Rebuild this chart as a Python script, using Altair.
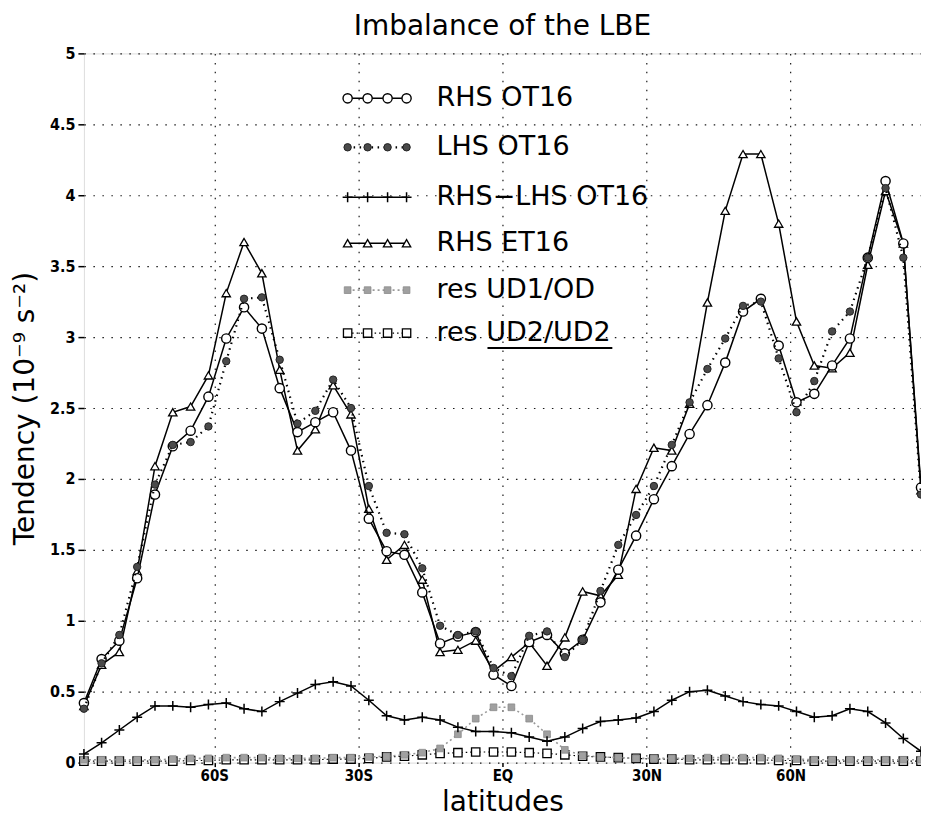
import altair as alt
import pandas as pd

# ---------------- data ----------------
lats = [-87.16, -83.48, -79.78, -76.07, -72.36, -68.65, -64.94, -61.23,
        -57.52, -53.81, -50.10, -46.39, -42.68, -38.97, -35.26, -31.54,
        -27.83, -24.12, -20.41, -16.70, -12.99, -9.28, -5.57, -1.86,
        1.86, 5.57, 9.28, 12.99, 16.70, 20.41, 24.12, 27.83,
        31.54, 35.26, 38.97, 42.68, 46.39, 50.10, 53.81, 57.52,
        61.23, 64.94, 68.65, 72.36, 76.07, 79.78, 83.48, 87.16]

rhs_ot16 = [0.42, 0.73, 0.86, 1.30, 1.89, 2.23, 2.34, 2.58,
            2.99, 3.21, 3.06, 2.64, 2.33, 2.40, 2.47, 2.20,
            1.72, 1.49, 1.465, 1.20, 0.84, 0.89, 0.92, 0.62,
            0.54, 0.85, 0.90, 0.77, 0.866, 1.13, 1.36, 1.60,
            1.857, 2.09, 2.317, 2.52, 2.82, 3.18, 3.27, 2.94,
            2.54, 2.60, 2.80, 2.99, 3.56, 4.10, 3.66, 1.94]

lhs_ot16 = [0.38, 0.70, 0.90, 1.38, 1.96, 2.24, 2.26, 2.37,
            2.83, 3.27, 3.28, 2.84, 2.39, 2.48, 2.70, 2.50,
            1.95, 1.62, 1.61, 1.37, 0.965, 0.90, 0.925, 0.667,
            0.61, 0.894, 0.925, 0.744, 0.866, 1.21, 1.535, 1.746,
            1.95, 2.24, 2.54, 2.775, 2.99, 3.22, 3.25, 2.85,
            2.47, 2.69, 3.04, 3.18, 3.56, 4.05, 3.56, 1.89]

diff_ot16 = [0.06, 0.14, 0.23, 0.32, 0.40, 0.40, 0.39, 0.41,
             0.42, 0.38, 0.36, 0.43, 0.49, 0.55, 0.57, 0.54,
             0.44, 0.33, 0.30, 0.32, 0.30, 0.25, 0.22, 0.22,
             0.21, 0.18, 0.15, 0.18, 0.24, 0.29, 0.30, 0.315,
             0.36, 0.44, 0.50, 0.51, 0.47, 0.43, 0.41, 0.40,
             0.36, 0.32, 0.33, 0.38, 0.36, 0.28, 0.17, 0.08]

rhs_et16 = [0.40, 0.69, 0.78, 1.35, 2.09, 2.47, 2.51, 2.73,
            3.31, 3.67, 3.45, 2.77, 2.20, 2.35, 2.66, 2.455,
            1.79, 1.43, 1.535, 1.29, 0.78, 0.795, 0.86, 0.645,
            0.744, 0.847, 0.683, 0.883, 1.207, 1.176, 1.324, 1.93,
            2.22, 2.20, 2.53, 3.244, 3.89, 4.29, 4.29, 3.80,
            3.11, 2.80, 2.78, 2.89, 3.51, 4.03, 3.66, 1.92]

res_ud1_od = [0.02, 0.02, 0.02, 0.02, 0.02, 0.025, 0.03, 0.03,
              0.035, 0.035, 0.035, 0.03, 0.03, 0.03, 0.035, 0.035,
              0.04, 0.045, 0.055, 0.07, 0.10, 0.20, 0.31, 0.39,
              0.39, 0.31, 0.20, 0.09, 0.05, 0.04, 0.035, 0.03,
              0.03, 0.03, 0.03, 0.035, 0.035, 0.035, 0.035, 0.03,
              0.025, 0.02, 0.02, 0.02, 0.02, 0.02, 0.02, 0.02]

res_ud2_ud2 = [0.01, 0.01, 0.01, 0.01, 0.01, 0.01, 0.015, 0.015,
               0.02, 0.02, 0.02, 0.02, 0.02, 0.02, 0.025, 0.025,
               0.03, 0.04, 0.045, 0.055, 0.065, 0.07, 0.075, 0.075,
               0.075, 0.07, 0.065, 0.055, 0.045, 0.04, 0.035, 0.03,
               0.025, 0.025, 0.02, 0.02, 0.02, 0.02, 0.02, 0.015,
               0.015, 0.01, 0.01, 0.01, 0.01, 0.01, 0.01, 0.01]

series_labels = ["RHS OT16", "LHS OT16", "RHS\u2212LHS OT16",
                 "RHS ET16", "res UD1/OD", "res UD2/UD2"]
x_tick_values = [-60, -30, 0, 30, 60]
y_tick_values = [0, 0.5, 1, 1.5, 2, 2.5, 3, 3.5, 4, 4.5, 5]

# ---------------- layout ----------------
W, H = 838, 710
LAT_MIN, LAT_MAX = -87.16, 87.16
Y_MAX = 5.0


def px2lat(px):
    return LAT_MIN + px / W * (LAT_MAX - LAT_MIN)


def py2val(py):
    return Y_MAX * (1 - py / H)


PLUS = "M-1,0L1,0M0,-1L0,1"

styles = [
    dict(line=dict(color="black", strokeWidth=1.5),
         point=dict(shape="circle", fill="white", stroke="black",
                    strokeWidth=1.4, size=85)),
    dict(line=dict(color="black", strokeWidth=2.2, strokeDash=[1.5, 4.5]),
         point=dict(shape="circle", fill="#4a4a4a", stroke="#222222",
                    strokeWidth=1, size=55)),
    dict(line=dict(color="black", strokeWidth=1.5),
         point=dict(shape=PLUS, fill="transparent", stroke="black",
                    strokeWidth=1.5, size=100)),
    dict(line=dict(color="black", strokeWidth=1.5),
         point=dict(shape="triangle-up", fill="white", stroke="black",
                    strokeWidth=1.3, size=70)),
    dict(line=dict(color="#999999", strokeWidth=1.6, strokeDash=[2, 3]),
         point=dict(shape="square", fill="#a0a0a0", stroke="#8a8a8a",
                    strokeWidth=0.8, size=45)),
    dict(line=dict(color="black", strokeWidth=1.2, strokeDash=[1.5, 3]),
         point=dict(shape="square", fill="white", stroke="black",
                    strokeWidth=1.3, size=70)),
]
series_values = [rhs_ot16, lhs_ot16, diff_ot16, rhs_et16, res_ud1_od, res_ud2_ud2]
draw_order = [5, 4, 2, 3, 0, 1]

x_scale = alt.Scale(domain=[LAT_MIN, LAT_MAX], nice=False, zero=False)
y_scale = alt.Scale(domain=[0, Y_MAX], nice=False, zero=True)

x_enc = alt.X(
    "lat:Q", scale=x_scale,
    axis=alt.Axis(
        values=x_tick_values,
        labelExpr="datum.value == 0 ? 'EQ' : (datum.value < 0 ? (-datum.value) + 'S' : datum.value + 'N')",
        title="latitudes", titleFontSize=28, titleFont="DejaVu Sans",
        titleFontWeight="normal", titleColor="black",
        titleX=W / 2, titleY=40, titleBaseline="middle", titleAlign="center",
        labelFontSize=15, labelFontWeight="bold",
        labelFont="Liberation Sans Narrow, DejaVu Sans Condensed, sans-serif",
        labelColor="black", labelPadding=2,
        tickSize=4, tickColor="black", tickWidth=1.5,
        grid=True, gridColor="black", gridDash=[1.5, 7.5], gridWidth=1.2,
        gridOpacity=0.9, domain=False,
    ),
)
y_enc = alt.Y(
    "v:Q", scale=y_scale,
    axis=alt.Axis(
        values=y_tick_values, labelExpr="'' + datum.value",
        title="Tendency (10\u207b\u2079 s\u207b\u00b2)", titleFontSize=28,
        titleFont="DejaVu Sans", titleFontWeight="normal", titleColor="black",
        titleAngle=-90, titleX=-58, titleY=H / 2,
        titleBaseline="middle", titleAlign="center",
        labelFontSize=16, labelFontWeight="bold",
        labelFont="Liberation Sans Narrow, DejaVu Sans Condensed, sans-serif",
        labelColor="black", labelPadding=3,
        tickSize=6, tickColor="black", tickWidth=1.5,
        grid=True, gridColor="black", gridDash=[1.5, 7.5], gridWidth=1.2,
        gridOpacity=0.9, domain=False,
    ),
)

layers = []
for k in draw_order:
    df = pd.DataFrame({"lat": lats, "v": series_values[k]})
    st = styles[k]
    layers.append(alt.Chart(df).mark_line(**st["line"]).encode(x=x_enc, y=y_enc))
    layers.append(alt.Chart(df).mark_point(filled=False, opacity=1, **st["point"])
                  .encode(x=x_enc, y=y_enc))

# ---------------- legend (inside the plot, top centre) ----------------
LEG_SYM_PX = [264, 284, 304, 323]
LEG_ROW_PY = [45, 94, 144, 190, 237, 280]
LEG_TEXT_PX = 353
for k, label in enumerate(series_labels):
    st = styles[k]
    yv = py2val(LEG_ROW_PY[k])
    layers.append(alt.Chart(pd.DataFrame({"lat": [0]})).mark_rule(**st["line"]).encode(
        x=alt.datum(px2lat(LEG_SYM_PX[0])), x2=alt.datum(px2lat(LEG_SYM_PX[-1])),
        y=alt.datum(yv)))
    ldf = pd.DataFrame({"lat": [px2lat(p) for p in LEG_SYM_PX], "v": [yv] * 4})
    layers.append(alt.Chart(ldf).mark_point(filled=False, opacity=1, **st["point"])
                  .encode(x=x_enc, y=y_enc))
    tdf = pd.DataFrame({"lat": [px2lat(LEG_TEXT_PX)], "v": [yv], "label": [label]})
    layers.append(alt.Chart(tdf).mark_text(
        align="left", baseline="middle", fontSize=27, font="DejaVu Sans",
        color="black").encode(x=x_enc, y=y_enc, text="label:N"))

# underline of "UD2/UD2"
UL_PY = LEG_ROW_PY[5] + 15
layers.append(alt.Chart(pd.DataFrame({"lat": [0]})).mark_rule(
    color="black", strokeWidth=2).encode(
    x=alt.datum(px2lat(LEG_TEXT_PX + 51)), x2=alt.datum(px2lat(LEG_TEXT_PX + 176)),
    y=alt.datum(py2val(UL_PY))))

chart = alt.layer(*layers).properties(
    width=W, height=H,
    title=alt.Title("Imbalance of the LBE", fontSize=28, font="DejaVu Sans",
                    fontWeight="normal", color="black", offset=4, anchor="middle"),
    autosize=alt.AutoSizeParams(type="none"),
    padding={"left": 76, "top": 45, "right": 0, "bottom": 56},
).configure_view(
    stroke="black", strokeWidth=2.5
).configure(background="white")

chart.save("out.html", embed_options={"renderer": "svg", "actions": False})
